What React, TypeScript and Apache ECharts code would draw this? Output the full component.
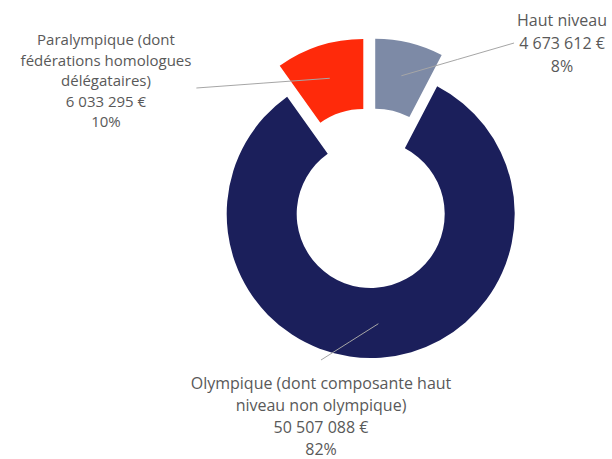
import React, { useEffect, useRef } from 'react';
import * as echarts from 'echarts';

// ---- data ----
const categories: string[] = [
  'Haut niveau',
  'Olympique (dont composante haut\nniveau non olympique)',
  'Paralympique (dont\nfédérations homologues\ndélégataires)',
];
const amounts: number[] = [4673612, 50507088, 6033295];

// ---- styling / layout (not data) ----
const colors = ['#7D8AA6', '#1B1F5B', '#FF2A0A'];
const explode = [22, 10, 22]; // px each slice is pulled out along its bisector
const baseCenter: [number, number] = [370, 204];
const radii = [74, 144];
const labelPositions: [number, number][] = [
  [562, 43],
  [321, 416],
  [106, 80],
];
const labelFontSizes = [16, 16, 15];
const labelLineHeights = [23, 22, 20.5];
const labelAnchors = ['left', 'top', 'right'];
const leaderRadius = 110;

const fmt = (v: number) => String(v).replace(/\B(?=(\d{3})+(?!\d))/g, ' ');

const total = amounts.reduce((a, b) => a + b, 0);

function midAngle(i: number) {
  let before = 0;
  for (let k = 0; k < i; k++) before += amounts[k];
  return ((before + amounts[i] / 2) / total) * Math.PI * 2; // clockwise from 12 o'clock
}

function sliceCenter(i: number): [number, number] {
  const a = midAngle(i);
  return [baseCenter[0] + explode[i] * Math.sin(a), baseCenter[1] - explode[i] * Math.cos(a)];
}

const common = {
  type: 'pie',
  radius: radii,
  startAngle: 90,
  clockwise: true,
  percentPrecision: 0,
  silent: true,
  avoidLabelOverlap: false,
  emphasis: { disabled: true },
};

// one series per slice, each pulled out from the common centre
function sliceSeries(visibleIndex: number) {
  return {
    ...common,
    z: 2,
    center: sliceCenter(visibleIndex),
    label: { show: false },
    labelLine: { show: false },
    data: categories.map((name, i) => ({
      name,
      value: amounts[i],
      itemStyle: { color: colors[i], opacity: i === visibleIndex ? 1 : 0 },
    })),
  };
}

// transparent series carrying the labels and leader lines, drawn on top
const labelSeries = {
  ...common,
  z: 5,
  center: baseCenter,
  itemStyle: { color: 'rgba(0,0,0,0)', opacity: 1 },
  label: {
    show: true,
    position: 'outside',
    color: '#595959',
    opacity: 1,
    fontFamily: 'Open Sans',
    fontSize: 16,
    lineHeight: 20,
    align: 'center',
    formatter: (p: any) => `${p.name}\n${fmt(p.value)} €\n${p.percent}%`,
  },
  labelLine: {
    show: true,
    length: 10,
    length2: 0,
    lineStyle: { color: '#A6A6A6', width: 1, opacity: 1 },
  },
  labelLayout: (params: any) => {
    const i = params.dataIndex;
    const pos = labelPositions[i];
    const w = params.labelRect.width;
    const h = params.labelRect.height;
    let start: number[];
    if (labelAnchors[i] === 'left') start = [pos[0] - w / 2 - 3, pos[1]];
    else if (labelAnchors[i] === 'right') start = [pos[0] + w / 2 + 5, pos[1] + 8];
    else start = [pos[0], pos[1] - h / 2 - 12];
    const c = sliceCenter(i);
    const a = midAngle(i);
    const end = [c[0] + leaderRadius * Math.sin(a), c[1] - leaderRadius * Math.cos(a)];
    const midPt = [(start[0] + end[0]) / 2, (start[1] + end[1]) / 2];
    return {
      x: pos[0],
      y: pos[1],
      align: 'center',
      verticalAlign: 'middle',
      labelLinePoints: [start, midPt, end],
    };
  },
  data: categories.map((name, i) => ({
    name,
    value: amounts[i],
    label: { fontSize: labelFontSizes[i], lineHeight: labelLineHeights[i] },
  })),
};

export default function App() {
  const ref = useRef<HTMLDivElement>(null);
  useEffect(() => {
    if (!ref.current) return;
    const chart = echarts.init(ref.current, undefined, { renderer: 'svg' });
    chart.setOption({
      animation: false,
      backgroundColor: '#ffffff',
      series: [...categories.map((_, i) => sliceSeries(i)), labelSeries],
    } as any);
    return () => chart.dispose();
  }, []);
  return (
    <div
      ref={ref}
      style={{ position: 'fixed', left: 0, top: 0, width: 612, height: 459, background: '#fff' }}
    />
  );
}
